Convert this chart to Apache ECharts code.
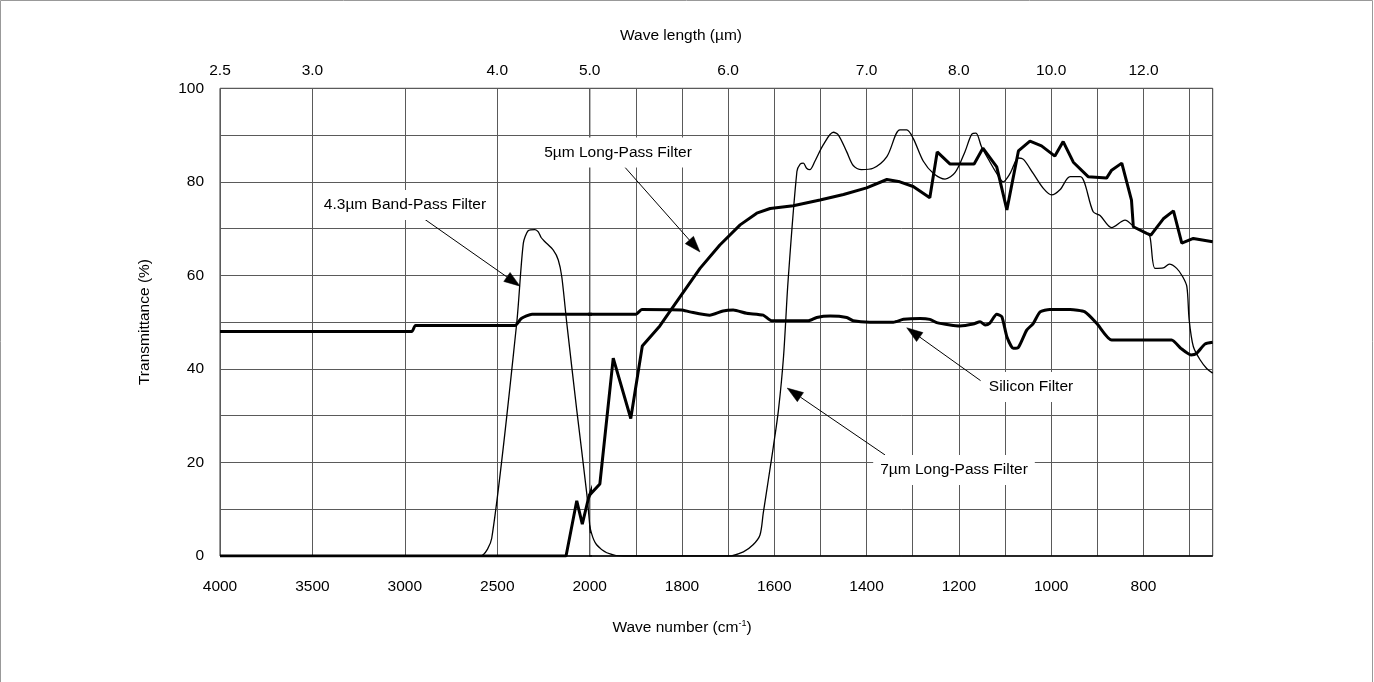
<!DOCTYPE html>
<html>
<head>
<meta charset="utf-8">
<script src="https://cdn.jsdelivr.net/npm/echarts@6/dist/echarts.min.js"></script>
<style>
html,body{margin:0;padding:0;background:#fff;}
#chart{width:1374px;height:682px;}
</style>
</head>
<body>
<div id="chart"></div>
<script>
// ---------- data (wave number cm-1, transmittance %) ----------
const bandPass43 = [
  [4000,0],[2593,0],[2530,3.8],[2395,49.7],[2359,66.9],[2332,69.6],[2296,69.8],[2278,69.3],
  [2263,68.1],[2242,67.2],[2197,65.4],[2170,63.3],[2151,59.7],[2124,49.8],[2070,31.2],
  [2016,13.4],[1996,4.85],[1985,2.4],[1963,0.7],[1927,0],[650,0]
];
const longPass5 = [
  [4000,0],[2128,0],[2070,11.8],[2040,6.8],[2007,12.3],[1978,15.4],[1949,42.3],[1911,29.4],
  [1886,44.9],[1848,49.2],[1819,53.3],[1761,61.5],[1718,66.5],[1674,70.8],[1638,73.3],
  [1609,74.3],[1559,74.9],[1501,76.1],[1450,77.3],[1400,78.7],[1356,80.5],[1328,80.0],
  [1299,79.0],[1263,76.6],[1247,86.4],[1219,83.8],[1167,83.8],[1148,87.2],[1118,83.2],
  [1096,74.0],[1071,86.6],[1046,88.7],[1021,87.7],[992,85.5],[974,88.6],[952,84.2],
  [920,81.1],[880,80.8],[869,82.5],[847,84.0],[826,76.1],[822,70.4],[793,69.0],[784,68.6],
  [757,72.1],[735,73.8],[717,66.9],[692,67.9],[650,67.2]
];
const longPass7 = [
  [4000,0],[1700,0],[1667,0.9],[1646,2.4],[1631,4.5],[1624,9.1],[1613,16.2],[1602,23.4],
  [1591,31.2],[1580,42.6],[1570,59.0],[1551,82.2],[1544,83.8],[1537,84.0],[1530,82.9],
  [1523,82.6],[1512,84.4],[1494,87.9],[1472,90.6],[1461,90.0],[1443,86.4],[1429,83.5],
  [1411,82.6],[1386,82.9],[1356,85.4],[1328,91.1],[1313,91.1],[1299,89.3],[1277,84.4],
  [1255,81.8],[1230,80.6],[1208,82.0],[1187,86.4],[1172,90.2],[1163,90.4],[1151,87.5],
  [1133,84.3],[1118,81.8],[1104,80.0],[1089,81.8],[1071,85.1],[1060,84.8],[1039,81.8],
  [1017,78.6],[999,77.2],[981,78.3],[959,81.1],[937,81.1],[909,73.6],[894,72.8],[869,70.2],
  [840,71.8],[818,70.2],[793,69.0],[786,68.3],[775,61.5],[757,61.6],[744,62.4],[728,61.5],
  [715,59.7],[706,57.6],[701,50.5],[692,44.8],[677,41.9],[663,40.1],[650,39.1]
];
const siliconFilter = [
  [4000,48.0],[2963,48.0],[2942,49.3],[2404,49.3],[2370,50.8],[2312,51.7],[1900,51.7],
  [1887,52.7],[1801,52.6],[1783,52.2],[1740,51.5],[1711,52.4],[1689,52.6],[1660,51.9],
  [1624,51.5],[1606,50.3],[1526,50.3],[1508,51.0],[1479,51.3],[1443,51.0],[1429,50.3],
  [1393,50.0],[1342,50.0],[1320,50.6],[1284,50.8],[1263,50.6],[1248,49.9],[1219,49.4],
  [1198,49.2],[1169,49.6],[1154,50.1],[1143,49.4],[1133,49.8],[1118,51.7],[1107,51.2],
  [1096,46.9],[1082,44.4],[1071,44.6],[1053,48.3],[1039,49.7],[1024,52.2],[1003,52.7],
  [959,52.7],[927,52.2],[901,49.7],[869,46.2],[739,46.2],[719,44.4],[697,43.0],[685,43.3],
  [667,45.3],[650,45.7]
];

// tick labels
const bottomTicksHigh = [4000,3500,3000,2500,2000];
const bottomTicksLow = [1800,1600,1400,1200,1000,800];
const topTickWaveNumbers = [4000,3500,2500,2000,1700,1400,1200,1000,800];
const topTickLabels = ['2.5','3.0','4.0','5.0','6.0','7.0','8.0','10.0','12.0'];
const yTickLabels = [0,20,40,60,80,100];

// annotation texts and arrows [tail wn, tail T, tip wn, tip T, gridIndex]
const annotationNames = ['4.3\u00b5m Band-Pass Filter','5\u00b5m Long-Pass Filter','Silicon Filter','7\u00b5m Long-Pass Filter'];
const arrowBandPass = [2900,72.2,2377,57.7,0];
const arrowLP5 = [1923.5,83.1,1761,65.0,1];
const arrowSilicon = [1153,37.5,1313,48.8,1];
const arrowLP7 = [1360,21.6,1572,35.9,1];

// ---------- chart ----------
const FONT = "'Liberation Sans', Arial, Helvetica, sans-serif";
const FS = 15.5;

function part(data, lo, hi) {
  const inR = w => w >= lo && w <= hi;
  const out = [];
  for (let i = 0; i < data.length; i++) {
    const a = inR(data[i][0]);
    const p = i > 0 && inR(data[i-1][0]);
    const n = i < data.length - 1 && inR(data[i+1][0]);
    if (a || p || n) out.push(data[i]);
  }
  return out;
}

function lineSeries(name, data, width, smooth, gi) {
  return {
    type:'line', name: name,
    xAxisIndex: gi, yAxisIndex: gi,
    data: gi === 0 ? part(data, 2000, 4000) : part(data, 650, 2000),
    symbol:'none', showSymbol:false, smooth: smooth, clip:true,
    lineStyle:{color:'#000', width: width},
    silent:true, animation:false, z: width > 2 ? 4 : 3
  };
}

const topMap = {};
topTickWaveNumbers.forEach((w,i)=>{ topMap[w] = topTickLabels[i]; });

const gridTop = 88.3, gridH = 467.7;
const labelStyle = {color:'#000', fontFamily: FONT, fontSize: FS};
const splitStyle = {show:true, lineStyle:{color:'#5a5a5a', width:1}};

function xAxis(gi, min, max, pos, formatter, extra) {
  return Object.assign({
    type:'value', gridIndex: gi, min: min, max: max, inverse: true, position: pos,
    axisLine:{show:false}, axisTick:{show:false},
    splitLine: pos === 'bottom' ? splitStyle : {show:false},
    axisLabel: Object.assign({}, labelStyle, {formatter: formatter, margin: pos === 'bottom' ? 23 : 10, showMinLabel:true, showMaxLabel:true, hideOverlap:false})
  }, extra);
}

function textEl(text, x, y, pad, extra) {
  return Object.assign({type:'text', silent:true, z:20, x:x, y:y,
    style:Object.assign({text:text, fill:'#000', font: FS + 'px ' + FONT,
      align:'center', verticalAlign:'middle', textAlign:'center', textVerticalAlign:'middle'},
      pad ? {backgroundColor:'#fff', padding:pad} : {})}, extra || {});
}

const baseGraphic = [
  {type:'rect', silent:true, z:-10, shape:{x:0.5, y:0.5, width:1372, height:700},
    style:{fill:'none', stroke:'#999', lineWidth:1}},
  textEl('Wave number (cm{sup|-1})', 682, 628, null),
  textEl('Wave length (\u00b5m)', 681, 36, null),
  textEl('Transmittance (%)', 145, 322, null, {rotation: Math.PI/2}),
  textEl(annotationNames[0], 405, 205, [7,7,7,7]),
  textEl(annotationNames[1], 618, 152.5, [7,7,7,7]),
  textEl(annotationNames[2], 1031, 387, [7,5,7,5]),
  textEl(annotationNames[3], 954, 470, [7,7,7,7])
];
baseGraphic[1].style.rich = {sup:{fontSize:9, fontFamily:FONT, fill:'#000', verticalAlign:'top', lineHeight:18, padding:[0,0,8,0]}};

const option = {
  backgroundColor:'#fff',
  animation:false,
  grid:[
    {left:220, top:gridTop, width:369.7, height:gridH, show:true, borderColor:'#333', borderWidth:1, backgroundColor:'transparent'},
    {left:589.7, top:gridTop, width:623, height:gridH, show:true, borderColor:'#333', borderWidth:1, backgroundColor:'transparent'}
  ],
  xAxis:[
    xAxis(0, 2000, 4000, 'bottom', v => bottomTicksHigh.indexOf(v) >= 0 ? String(v) : '', {interval:500}),
    xAxis(1, 650, 2000, 'bottom', v => bottomTicksLow.indexOf(v) >= 0 ? String(v) : '', {splitNumber:13}),
    xAxis(0, 2000, 4000, 'top', v => topMap[v] !== undefined ? topMap[v] : '', {interval:500}),
    xAxis(1, 650, 2000, 'top', v => (topMap[v] !== undefined && v < 2000) ? topMap[v] : '', {splitNumber:13})
  ],
  yAxis:[
    {type:'value', gridIndex:0, min:0, max:100, interval:10,
      axisLine:{show:false}, axisTick:{show:false}, splitLine: splitStyle,
      axisLabel: Object.assign({}, labelStyle, {margin:16, formatter: v => yTickLabels.indexOf(v) >= 0 ? String(v) : ''})},
    {type:'value', gridIndex:1, min:0, max:100, interval:10,
      axisLine:{show:false}, axisTick:{show:false}, splitLine: splitStyle,
      axisLabel:{show:false}}
  ],
  series:[
    lineSeries('4.3um Band-Pass Filter', bandPass43, 1.3, 0.25, 0),
    lineSeries('4.3um Band-Pass Filter', bandPass43, 1.3, 0.25, 1),
    lineSeries('7um Long-Pass Filter', longPass7, 1.3, 0.3, 0),
    lineSeries('7um Long-Pass Filter', longPass7, 1.3, 0.3, 1),
    lineSeries('Silicon Filter', siliconFilter, 3, 0.2, 0),
    lineSeries('Silicon Filter', siliconFilter, 3, 0.2, 1),
    lineSeries('5um Long-Pass Filter', longPass5, 3, false, 0),
    lineSeries('5um Long-Pass Filter', longPass5, 3, false, 1)
  ],
  graphic: baseGraphic
};

const chart = echarts.init(document.getElementById('chart'), null, {renderer:'canvas'});
chart.setOption(option);

// arrows: positioned through the chart's own axes
function arrowGraphic(a) {
  const tail = chart.convertToPixel({gridIndex: a[4]}, [a[0], a[1]]);
  const tip = chart.convertToPixel({gridIndex: a[4]}, [a[2], a[3]]);
  const dx = tip[0] - tail[0], dy = tip[1] - tail[1];
  const len = Math.sqrt(dx*dx + dy*dy);
  const ux = dx / len, uy = dy / len;
  const headL = 16, headW = 5.5;
  const bx = tip[0] - ux*headL, by = tip[1] - uy*headL;
  return [
    {type:'line', silent:true, z:15, shape:{x1:tail[0], y1:tail[1], x2:bx, y2:by},
      style:{stroke:'#000', lineWidth:1}},
    {type:'polygon', silent:true, z:15,
      shape:{points:[[tip[0],tip[1]],[bx - uy*headW, by + ux*headW],[bx + uy*headW, by - ux*headW]]},
      style:{fill:'#000', stroke:'#000', lineWidth:0.5}}
  ];
}
const arrowEls = [].concat(
  arrowGraphic(arrowBandPass), arrowGraphic(arrowLP5),
  arrowGraphic(arrowSilicon), arrowGraphic(arrowLP7));
chart.setOption({graphic: baseGraphic.concat(arrowEls)}, {replaceMerge:['graphic']});
</script>
</body>
</html>
